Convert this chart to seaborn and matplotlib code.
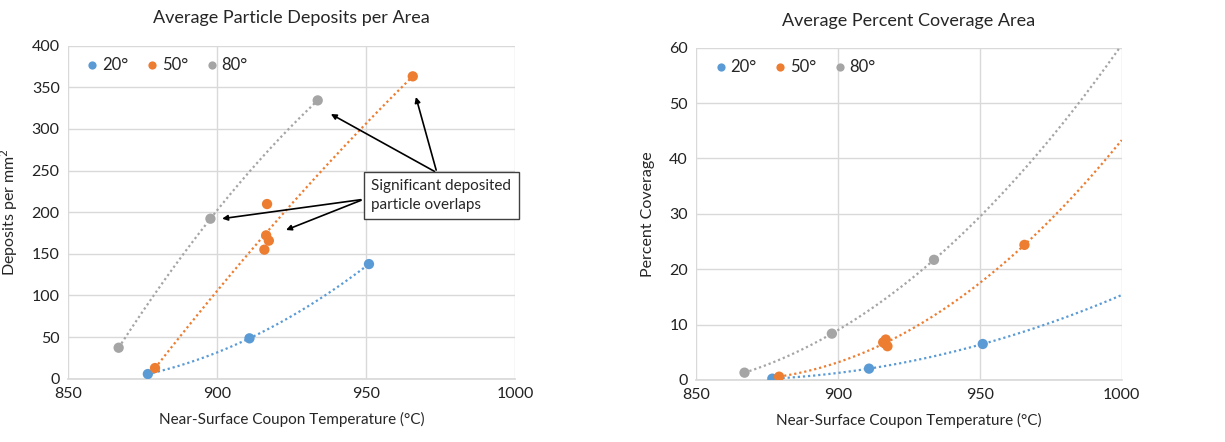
import numpy as np
import pandas as pd
import matplotlib
matplotlib.use("Agg")
import matplotlib.pyplot as plt
import seaborn as sns

sns.set_theme(style="white")
plt.rcParams['font.family'] = ['Lato', 'DejaVu Sans']

# ---- data ----
angles = ["20°", "50°", "80°"]
colors = ["#5B9BD5", "#ED7D31", "#A5A5A5"]

temp_20 = [876.8, 910.9, 951.0]
dep_20 = [5.6, 48.5, 137.7]
cov_20 = [0.24, 2.05, 6.5]

temp_50 = [879.2, 916.8, 916.5, 917.4, 915.9, 965.7]
dep_50 = [12.8, 209.8, 172.2, 165.8, 155.0, 363.2]
cov_50 = [0.6, 7.3, 6.6, 6.1, 6.8, 24.4]

temp_80 = [867.0, 897.8, 933.8]
dep_80 = [37.2, 192.2, 334.3]
cov_80 = [1.32, 8.37, 21.7]

rows = []
for a, t, d, c in [("20°", temp_20, dep_20, cov_20),
                   ("50°", temp_50, dep_50, cov_50),
                   ("80°", temp_80, dep_80, cov_80)]:
    for ti, di, ci in zip(t, d, c):
        rows.append({"angle": a, "temp": ti, "dep": di, "cov": ci})
df = pd.DataFrame(rows)

fig = plt.figure(figsize=(12.25, 4.42), dpi=100)
ax1 = fig.add_axes([0.0555, 0.1432, 0.3649, 0.7534])
ax2 = fig.add_axes([0.5684, 0.1403, 0.3473, 0.7517])

grid_c = "#D9D9D9"

def style(ax, ylim, yticks):
    ax.set_xlim(850, 1000)
    ax.set_ylim(*ylim)
    ax.set_xticks([850, 900, 950, 1000])
    ax.set_yticks(yticks)
    ax.grid(True, color=grid_c, linewidth=1)
    ax.set_axisbelow(True)
    for s in ["top", "right", "left"]:
        ax.spines[s].set_visible(False)
    ax.spines["bottom"].set_color(grid_c)
    ax.tick_params(axis="both", labelsize=11.5, colors="black", length=0, pad=6)
    for lbl in ax.get_xticklabels() + ax.get_yticklabels():
        lbl.set_color("#222222")

def trend(ax, ycol, extend):
    for a, col in zip(angles, colors):
        sub = df[df.angle == a]
        p = np.polyfit(sub.temp, sub[ycol], 2)
        x0 = sub.temp.min()
        x1 = 1000 if extend else sub.temp.max()
        xs = np.linspace(x0, x1, 200)
        ax.plot(xs, np.polyval(p, xs), linestyle=(0, (1, 1.3)), color=col, linewidth=1.6, zorder=2)

# left chart
trend(ax1, "dep", extend=False)
sns.scatterplot(data=df, x="temp", y="dep", hue="angle", palette=colors, hue_order=angles,
                s=55, edgecolor="none", ax=ax1, zorder=3)
style(ax1, (0, 400), range(0, 401, 50))
ax1.set_title("Average Particle Deposits per Area", fontsize=13, pad=16)
ax1.set_xlabel("Near-Surface Coupon Temperature (°C)", fontsize=11, labelpad=8)
ax1.set_ylabel("Deposits per mm$^2$", fontsize=11.5, labelpad=8)

# annotation
ax1.text(951.8, 220, "Significant deposited\nparticle overlaps", fontsize=11, va="center", ha="left",
         linespacing=1.4,
         bbox=dict(boxstyle="square,pad=0.5", facecolor="white", edgecolor="#404040", linewidth=1),
         zorder=5)
aprops = dict(arrowstyle="-|>", color="black", lw=1.2, mutation_scale=8)
for tgt in [(937.4, 319.5), (966.5, 341.6)]:
    ax1.annotate("", xy=tgt, xytext=(973.8, 247.4), arrowprops=aprops, zorder=4)
for tgt in [(900.8, 191.8), (922.3, 177.4)]:
    ax1.annotate("", xy=tgt, xytext=(949.2, 215.5), arrowprops=aprops, zorder=4)

# right chart
trend(ax2, "cov", extend=True)
sns.scatterplot(data=df, x="temp", y="cov", hue="angle", palette=colors, hue_order=angles,
                s=55, edgecolor="none", ax=ax2, zorder=3)
style(ax2, (0, 60), range(0, 61, 10))
ax2.set_title("Average Percent Coverage Area", fontsize=13, pad=16)
ax2.set_xlabel("Near-Surface Coupon Temperature (°C)", fontsize=11, labelpad=8)
ax2.set_ylabel("Percent Coverage", fontsize=11.5, labelpad=10)

for ax in (ax1, ax2):
    ax.legend(loc="upper left", ncol=3, frameon=False, fontsize=12, handletextpad=0.1,
              handlelength=1.0, columnspacing=0.9, markerscale=0.8, borderaxespad=0.3, title=None,
              bbox_to_anchor=(0.01, 1.0))

fig.savefig("out.png", dpi=100)
